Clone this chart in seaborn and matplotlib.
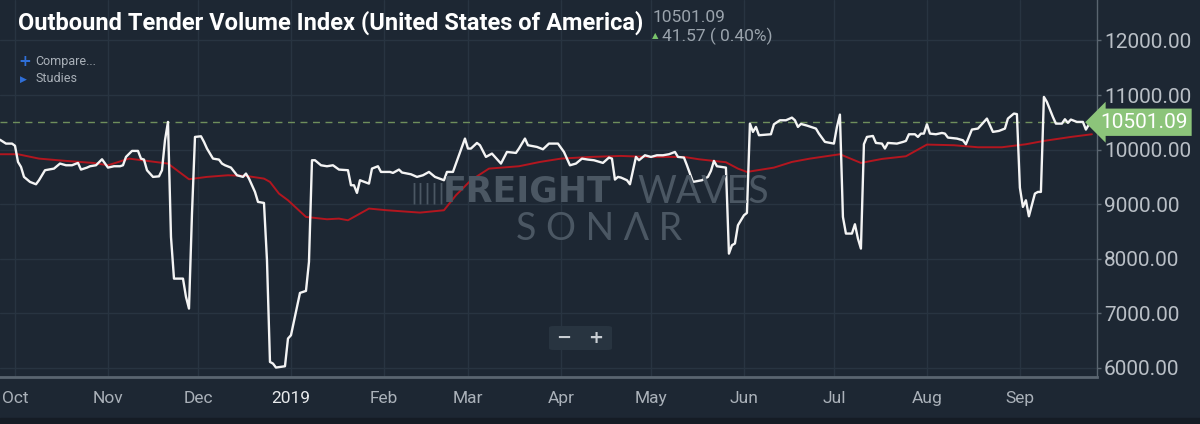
import numpy as np
import pandas as pd
import matplotlib
matplotlib.use("Agg")
import matplotlib.pyplot as plt
import matplotlib.transforms as mtransforms
from matplotlib.patches import FancyBboxPatch, Rectangle
import seaborn as sns

# --- data (days counted from 2018-10-01) ---
START = pd.Timestamp("2018-10-01")

otvi_day = [
    -5, -3, -1, 0, 1, 2, 3, 5, 7, 8, 10, 13, 15, 17, 19, 21, 22, 24, 25, 27,
    29, 31, 33, 35, 36, 37, 39, 41, 42, 43, 44, 46, 48, 49, 50, 51, 52, 53, 54, 56,
    57, 58, 59, 60, 62, 63, 64, 66, 68, 69, 70, 72, 74, 76, 77, 78, 80, 81, 83, 84,
    85, 86, 87, 90, 91, 92, 95, 97, 98, 99, 100, 102, 104, 106, 108, 111, 112, 113, 114, 115,
    118, 119, 121, 122, 125, 126, 128, 129, 132, 134, 136, 138, 140, 143, 144, 146, 148, 150, 151, 152,
    154, 155, 157, 159, 162, 164, 167, 168, 170, 171, 174, 176, 178, 181, 183, 185, 187, 189, 191, 193,
    196, 198, 199, 200, 201, 202, 204, 205, 207, 208, 210, 212, 214, 216, 218, 220, 221, 223, 224, 226,
    229, 231, 232, 233, 234, 237, 238, 239, 240, 241, 243, 244, 245, 246, 247, 248, 252, 253, 255, 257,
    259, 260, 261, 262, 264, 267, 268, 270, 273, 274, 275, 276, 277, 279, 280, 281, 282, 283, 284, 286,
    287, 289, 290, 291, 294, 296, 297, 298, 300, 301, 302, 303, 304, 305, 307, 309, 310, 311, 314, 316,
    317, 319, 321, 322, 324, 326, 328, 330, 331, 333, 334, 335, 336, 337, 338, 340, 341, 342, 343, 344,
    346, 347, 349, 350, 351, 352, 354, 356, 357, 358, 359,
]
otvi_value = [
    10180, 10110, 10110, 10070, 9774, 9683, 9500, 9408, 9365, 9439, 9622, 9652, 9744, 9713, 9713, 9756, 9634, 9670, 9695, 9713,
    9823, 9670, 9695, 9695, 9713, 9866, 9976, 9976, 9835, 9817, 9622, 9500, 9510, 9622, 10171, 10507, 8400, 7637, 7637, 7637,
    7302, 7088, 8828, 10232, 10244, 10141, 10019, 9835, 9817, 9744, 9713, 9670, 9530, 9500, 9561, 9469, 9225, 9042, 9023, 7973,
    6111, 6081, 6008, 6032, 6539, 6600, 7375, 7412, 7943, 9805, 9805, 9713, 9695, 9713, 9634, 9622, 9347, 9347, 9207, 9439,
    9377, 9652, 9695, 9591, 9591, 9573, 9634, 9580, 9548, 9500, 9530, 9591, 9500, 9439, 9591, 9591, 9896, 10202, 10019, 10019,
    10122, 10080, 9866, 9927, 9744, 9957, 9939, 10019, 10202, 10080, 10049, 10006, 10110, 10110, 9957, 9713, 9744, 9835, 9817, 9805,
    9756, 9854, 9835, 9451, 9500, 9488, 9439, 9365, 9866, 9805, 9896, 9866, 9896, 9896, 9915, 9957, 9866, 9854, 9713, 9408,
    9439, 9500, 9610, 9793, 9695, 9670, 8095, 8248, 8280, 8614, 8797, 8840, 10476, 10324, 10415, 10263, 10281, 10464, 10537, 10537,
    10586, 10537, 10415, 10470, 10440, 10385, 10293, 10141, 10110, 10415, 10641, 8767, 8462, 8462, 8633, 8370, 8187, 10100, 10232, 10250,
    10122, 10110, 10019, 10122, 10110, 10140, 10159, 10281, 10281, 10232, 10293, 10293, 10464, 10293, 10281, 10305, 10293, 10220, 10202, 10171,
    10098, 10367, 10385, 10446, 10568, 10324, 10342, 10385, 10568, 10660, 10650, 9300, 8950, 9072, 8779, 9194, 9225, 9225, 10965, 10873,
    10598, 10476, 10476, 10556, 10490, 10550, 10507, 10507, 10367, 10459.52, 10501.09,
]

avg_day = [
    -5, 1, 8, 17, 26, 31, 38, 44, 51, 58, 64, 71, 77, 83, 85, 88, 91, 97, 104, 108,
    111, 114, 118, 124, 135, 143, 147, 152, 158, 168, 175, 182, 192, 202, 211, 223, 228, 237, 241, 244,
    253, 259, 265, 275, 282, 289, 297, 304, 313, 321, 329, 337, 343, 352, 359,
]
avg_value = [
    9915, 9915, 9835, 9793, 9756, 9713, 9835, 9793, 9744, 9457, 9500, 9530, 9518, 9469, 9408, 9194, 9072, 8767, 8724, 8736,
    8706, 8797, 8920, 8889, 8846, 8889, 9164, 9439, 9652, 9695, 9774, 9835, 9866, 9884, 9866, 9866, 9823, 9768, 9652, 9591,
    9670, 9774, 9835, 9915, 9756, 9829, 9878, 10092, 10080, 10043, 10043, 10098, 10159, 10232, 10281,
]

last_value = 10501.09
last_change = 41.57
last_pct = 0.40

tick_dates = pd.date_range("2018-10-01", periods=12, freq="MS")
tick_labels = ["Oct", "Nov", "Dec", "2019", "Feb", "Mar", "Apr", "May", "Jun", "Jul", "Aug", "Sep"]
y_ticks = [6000, 7000, 8000, 9000, 10000, 11000, 12000]

# --- colours ---
BG = "#1d2733"
GRID = "#283441"
AXIS = "#5a6570"
TXT = "#aab1b9"
WHITE = "#f4f4f4"
RED = "#b3161f"
GREEN = "#8cc47a"

otvi = pd.DataFrame({"date": START + pd.to_timedelta(otvi_day, unit="D"), "value": otvi_value})
avg = pd.DataFrame({"date": START + pd.to_timedelta(avg_day, unit="D"), "value": avg_value})

sns.set_style("dark", rc={"axes.facecolor": BG, "figure.facecolor": BG})
plt.rcParams["font.family"] = ["Roboto", "DejaVu Sans"]

W, H = 1200, 424
fig = plt.figure(figsize=(12, 4.24), dpi=100)
ax = fig.add_axes([0, 47 / H, 1097 / W, 377 / H])
ax.set_facecolor(BG)

# darker strip at the very bottom
fig.patches.append(Rectangle((0, 0), 1, 6 / H, transform=fig.transFigure, color="#151c25", zorder=0))

sns.lineplot(data=avg, x="date", y="value", ax=ax, color=RED, lw=1.4, zorder=3)
sns.lineplot(data=otvi, x="date", y="value", ax=ax, color=WHITE, lw=1.7, zorder=4)

ax.axhline(last_value, color="#6f8f5c", lw=1, ls=(0, (5, 4)), zorder=2)

ax.set_xlim(START - pd.Timedelta(days=5), START + pd.Timedelta(days=360.7))
ax.set_ylim(5835, 12740)

ax.set_xticks(tick_dates)
ax.set_xticklabels(tick_labels)
ax.set_yticks(y_ticks)
ax.set_yticklabels([f"{v:.2f}" for v in y_ticks])
ax.yaxis.tick_right()
ax.set_xlabel("")
ax.set_ylabel("")

ax.grid(True, color=GRID, lw=1)
ax.set_axisbelow(True)
for side in ["top", "left"]:
    ax.spines[side].set_visible(False)
ax.spines["right"].set_color(AXIS)
ax.spines["right"].set_linewidth(1)
ax.spines["bottom"].set_color(AXIS)
ax.spines["bottom"].set_linewidth(2)

ax.tick_params(axis="x", colors=AXIS, length=5, width=1, pad=5, labelsize=12.5, labelcolor=TXT)
ax.tick_params(axis="y", colors=AXIS, length=3, width=1, pad=2, labelsize=15, labelcolor="#b9bfc6")
for lab in ax.get_xticklabels():
    if lab.get_text() == "2019":
        lab.set_color("#e8eaec")

# last value label on the price axis
trans = mtransforms.blended_transform_factory(fig.transFigure, ax.transData)
ax.text(1100 / W, last_value, f"{last_value:.2f}", transform=trans, ha="left", va="center",
        fontsize=15, color="white", zorder=6, clip_on=False,
        bbox=dict(boxstyle="larrow,pad=0.2", fc=GREEN, ec="none"))

# header texts
fig.text(18 / W, 1 - 23 / H, "Outbound Tender Volume Index (United States of America)",
         weight="bold", fontsize=17, color="white", ha="left", va="center")
fig.text(653 / W, 1 - 18 / H, f"{last_value:.2f}", fontsize=12.5, color="#9aa3ac", ha="left", va="center")
fig.text(652 / W, 1 - 36 / H, "\u25b2", family=["DejaVu Sans"], fontsize=6, color="#78c36a", ha="left", va="center")
fig.text(662 / W, 1 - 36 / H, f"{last_change:.2f} ( {last_pct:.2f}%)", fontsize=12.5, color="#9aa3ac",
         ha="left", va="center")

fig.text(18 / W, 1 - 62 / H, "+", family=["DejaVu Sans"], weight="bold", fontsize=11, color="#2f6fd8",
         ha="left", va="center")
fig.text(35 / W, 1 - 62 / H, "Compare...", fontsize=9, color=TXT, ha="left", va="center")
fig.text(20 / W, 1 - 79 / H, "\u25b6", family=["DejaVu Sans"], fontsize=6.5, color="#2f6fd8",
         ha="left", va="center")
fig.text(35 / W, 1 - 79 / H, "Studies", fontsize=9, color=TXT, ha="left", va="center")

# watermark
wm = "#4b5763"
fig.text(410 / W, 1 - 193 / H, "|||||", family=["DejaVu Sans"], fontsize=15, color=wm,
         ha="left", va="center", zorder=1)
fig.text(443 / W, 1 - 192 / H, "FREIGHT", family=["DejaVu Sans"], weight="heavy", fontsize=25,
         color=wm, ha="left", va="center", zorder=1)
fig.text(637 / W, 1 - 192 / H, "WAVES", family=["Lato", "DejaVu Sans"], weight="normal", fontsize=27,
         color=wm, ha="left", va="center", zorder=1)
fig.text(599 / W, 1 - 229 / H, "S O N \u039b R", family=["Lato", "DejaVu Sans"], weight="normal",
         fontsize=27, color=wm, ha="center", va="center", zorder=1)

# zoom control box
fig.patches.append(FancyBboxPatch((549 / W, 1 - 350 / H), 63 / W, 24 / H, boxstyle="round,pad=0,rounding_size=0.004",
                                  transform=fig.transFigure, fc="#283440", ec="none", zorder=5))
fig.text(564 / W, 1 - 338 / H, "\u2212", family=["DejaVu Sans"], weight="bold", fontsize=13,
         color="#c9ced3", ha="center", va="center", zorder=6)
fig.text(596 / W, 1 - 338 / H, "+", family=["DejaVu Sans"], weight="bold", fontsize=13,
         color="#c9ced3", ha="center", va="center", zorder=6)

fig.savefig("out.png", dpi=100, facecolor=BG)
